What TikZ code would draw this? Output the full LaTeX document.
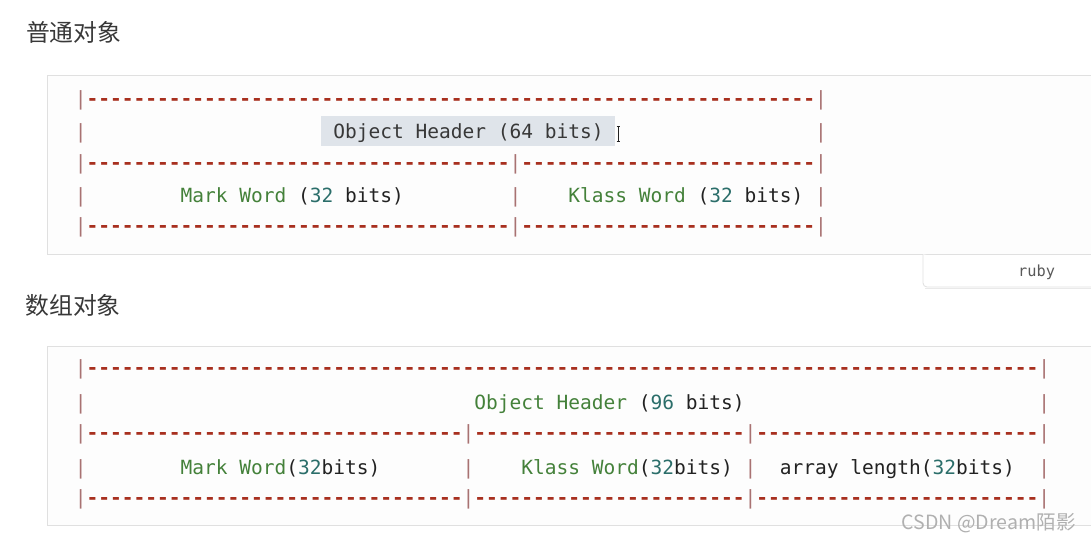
\documentclass[tikz,border=0pt]{standalone}
\usepackage{fontspec}
\setmonofont{DejaVu Sans Mono}
\newfontfamily\cjk{Noto Sans CJK SC}
\definecolor{dashred}{HTML}{A8301F}
\definecolor{pipec}{HTML}{A87272}
\definecolor{kwgreen}{HTML}{44813A}
\definecolor{numteal}{HTML}{2B6E6A}
\definecolor{ink}{HTML}{222222}
\definecolor{selink}{HTML}{383838}
\definecolor{selbg}{HTML}{DFE4EA}
\definecolor{codebg}{HTML}{FDFDFD}
\definecolor{codeborder}{HTML}{E0E0E0}
\definecolor{headc}{HTML}{383838}
\definecolor{wmark}{HTML}{B0B0B0}
\newcount\dcnt
\newcommand\dashrun[1]{\dcnt=0 \loop\ifnum\dcnt<#1 -\advance\dcnt by 1 \repeat}
\newcommand\colx[1]{74.8+#1*11.75}
\tikzset{
  seg/.style={inner sep=0pt, outer sep=0pt, anchor=base west, font=\ttfamily\fontsize{19.52}{20}\selectfont},
  codebox/.style={draw=codeborder, fill=codebg, line width=0.8pt},
  heading/.style={inner sep=0pt, anchor=base west, text=headc, font=\cjk\fontsize{23.8}{26}\selectfont},
}
\newcommand\pipeat[3]{\node[seg,text=pipec] (#1) at ({\colx{#2}},#3) {|};}
\newcommand\dashat[4]{\node[seg,text=dashred] (#1) at ({\colx{#2}},#3) {\bfseries\dashrun{#4}};}
\newcommand\txtat[4]{\node[seg,text=ink] (#1) at ({\colx{#2}},#3) {#4};}
\newcommand\gr[1]{{\color{kwgreen}#1}}
\newcommand\nm[1]{{\color{numteal}#1}}
\begin{document}
\begin{tikzpicture}[x=1pt,y=-1pt]
\fill[white] (0,0) rectangle (1091,540);
\useasboundingbox (0,0) rectangle (1091,540);

% headings
\node[heading] (h1) at (25.8,41.7) {普通对象};
\node[heading] (h2) at (25.3,314.4) {数组对象};

% code boxes
\path[codebox] (1092,75.5) -- (47,75.5) -- (47,254.3) -- (1092,254.3);
\path[codebox] (1092,346.7) -- (47,346.7) -- (47,525) -- (1092,525);

% ruby tab
\draw[codeborder, fill=white, line width=0.8pt, rounded corners=4pt] (923,254.3) -- (923,287) -- (1092,287);
\draw[codeborder!70, line width=0.6pt] (925,288.2) -- (1092,288.2);
\node[inner sep=0pt, anchor=base west, text=black!65, font=\ttfamily\fontsize{15.3}{16}\selectfont] (ruby) at (1018,276) {ruby};

% selection highlight
\fill[selbg] (321,116) rectangle (615,146);

% ---- block 1 ----
\pipeat{a0l}{0}{105.5}\dashat{a0d}{1}{105.5}{62}\pipeat{a0r}{63}{105.5}
\pipeat{a1l}{0}{138.3}
\node[seg,text=selink] (a1t) at ({\colx{22}},138.3) {Object Header (64 bits)};
\pipeat{a1r}{63}{138.3}
\pipeat{a2l}{0}{169}\dashat{a2d1}{1}{169}{36}\pipeat{a2m}{37}{169}\dashat{a2d2}{38}{169}{25}\pipeat{a2r}{63}{169}
\pipeat{a3l}{0}{202.2}
\txtat{a3t1}{9}{202.2}{\gr{Mark Word} (\nm{32} bits)}
\pipeat{a3m}{37}{202.2}
\txtat{a3t2}{42}{202.2}{\gr{Klass Word} (\nm{32} bits)}
\pipeat{a3r}{63}{202.2}
\pipeat{a4l}{0}{232.3}\dashat{a4d1}{1}{232.3}{36}\pipeat{a4m}{37}{232.3}\dashat{a4d2}{38}{232.3}{25}\pipeat{a4r}{63}{232.3}

% cursor
\draw[ink, line width=0.9pt] (618.5,127) -- (618.5,141.5);
\draw[ink, line width=0.8pt] (616.6,126.6) -- (620.4,126.6) (616.6,141.9) -- (620.4,141.9);

% ---- block 2 ----
\pipeat{b0l}{0}{374.8}\dashat{b0d}{1}{374.8}{81}\pipeat{b0r}{82}{374.8}
\pipeat{b1l}{0}{409.8}
\txtat{b1t}{34}{409.8}{\gr{Object Header} (\nm{96} bits)}
\pipeat{b1r}{82}{409.8}
\pipeat{b2l}{0}{439.8}\dashat{b2d1}{1}{439.8}{32}\pipeat{b2m1}{33}{439.8}\dashat{b2d2}{34}{439.8}{23}\pipeat{b2m2}{57}{439.8}\dashat{b2d3}{58}{439.8}{24}\pipeat{b2r}{82}{439.8}
\pipeat{b3l}{0}{474}
\txtat{b3t1}{9}{474}{\gr{Mark Word}(\nm{32}bits)}
\pipeat{b3m1}{33}{474}
\txtat{b3t2}{38}{474}{\gr{Klass Word}(\nm{32}bits)}
\pipeat{b3m2}{57}{474}
\txtat{b3t3}{60}{474}{array length(\nm{32}bits)}
\pipeat{b3r}{82}{474}
\pipeat{b4l}{0}{504.8}\dashat{b4d1}{1}{504.8}{32}\pipeat{b4m1}{33}{504.8}\dashat{b4d2}{34}{504.8}{23}\pipeat{b4m2}{57}{504.8}\dashat{b4d3}{58}{504.8}{24}\pipeat{b4r}{82}{504.8}

% watermark
\node[inner sep=0pt, anchor=base west, text=wmark, font=\cjk\fontsize{19.6}{20}\selectfont] (wm) at (901.5,529.3) {CSDN @Dream陌影};
\end{tikzpicture}
\end{document}
